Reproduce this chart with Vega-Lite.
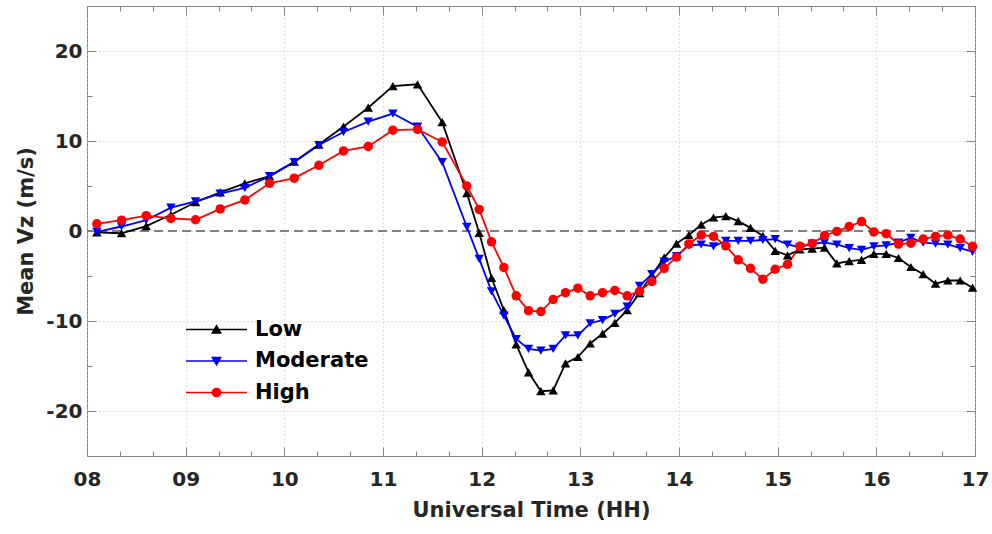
{
  "$schema": "https://vega.github.io/schema/vega-lite/v6.json",
  "width": 888,
  "height": 450,
  "autosize": {"type": "none"},
  "padding": {"left": 87, "top": 6, "right": 17, "bottom": 78},
  "background": "white",
  "config": {"view": {"stroke": "#858585", "strokeWidth": 1}, "font": "DejaVu Sans"},
  "datasets": {
    "series": [
      {"t": 8.1, "v": -0.15, "g": "Low"}, {"t": 8.35, "v": -0.25, "g": "Low"}, {"t": 8.6, "v": 0.55, "g": "Low"}, {"t": 8.85, "v": 1.8, "g": "Low"}, {"t": 9.1, "v": 3.2, "g": "Low"}, {"t": 9.35, "v": 4.3, "g": "Low"}, {"t": 9.6, "v": 5.3, "g": "Low"}, {"t": 9.85, "v": 6.1, "g": "Low"}, {"t": 10.1, "v": 7.7, "g": "Low"}, {"t": 10.35, "v": 9.6, "g": "Low"}, {"t": 10.6, "v": 11.6, "g": "Low"}, {"t": 10.85, "v": 13.7, "g": "Low"}, {"t": 11.1, "v": 16.1, "g": "Low"}, {"t": 11.35, "v": 16.3, "g": "Low"}, {"t": 11.6, "v": 12.1, "g": "Low"},
      {"t": 11.85, "v": 4.2, "g": "Low"}, {"t": 11.975, "v": -0.2, "g": "Low"}, {"t": 12.1, "v": -5.2, "g": "Low"}, {"t": 12.225, "v": -8.8, "g": "Low"}, {"t": 12.35, "v": -12.6, "g": "Low"}, {"t": 12.475, "v": -15.7, "g": "Low"}, {"t": 12.6, "v": -17.8, "g": "Low"}, {"t": 12.725, "v": -17.7, "g": "Low"}, {"t": 12.85, "v": -14.7, "g": "Low"}, {"t": 12.975, "v": -14.0, "g": "Low"}, {"t": 13.1, "v": -12.5, "g": "Low"}, {"t": 13.225, "v": -11.4, "g": "Low"}, {"t": 13.35, "v": -10.2, "g": "Low"}, {"t": 13.475, "v": -8.8, "g": "Low"}, {"t": 13.6, "v": -6.9, "g": "Low"}, {"t": 13.725, "v": -4.9, "g": "Low"}, {"t": 13.85, "v": -2.95, "g": "Low"}, {"t": 13.975, "v": -1.4, "g": "Low"}, {"t": 14.1, "v": -0.45, "g": "Low"}, {"t": 14.225, "v": 0.7, "g": "Low"}, {"t": 14.35, "v": 1.5, "g": "Low"}, {"t": 14.475, "v": 1.65, "g": "Low"}, {"t": 14.6, "v": 1.1, "g": "Low"}, {"t": 14.725, "v": 0.35, "g": "Low"}, {"t": 14.85, "v": -0.55, "g": "Low"}, {"t": 14.975, "v": -2.2, "g": "Low"}, {"t": 15.1, "v": -2.7, "g": "Low"}, {"t": 15.225, "v": -2.05, "g": "Low"}, {"t": 15.35, "v": -1.95, "g": "Low"}, {"t": 15.475, "v": -1.85, "g": "Low"}, {"t": 15.6, "v": -3.6, "g": "Low"}, {"t": 15.725, "v": -3.35, "g": "Low"}, {"t": 15.85, "v": -3.2, "g": "Low"}, {"t": 15.975, "v": -2.55, "g": "Low"}, {"t": 16.1, "v": -2.55, "g": "Low"}, {"t": 16.225, "v": -3.0, "g": "Low"}, {"t": 16.35, "v": -4.0, "g": "Low"}, {"t": 16.475, "v": -4.8, "g": "Low"}, {"t": 16.6, "v": -5.85, "g": "Low"}, {"t": 16.725, "v": -5.5, "g": "Low"}, {"t": 16.85, "v": -5.5, "g": "Low"}, {"t": 16.975, "v": -6.3, "g": "Low"},
      {"t": 8.1, "v": -0.1, "g": "Moderate"}, {"t": 8.35, "v": 0.5, "g": "Moderate"}, {"t": 8.6, "v": 1.2, "g": "Moderate"}, {"t": 8.85, "v": 2.6, "g": "Moderate"}, {"t": 9.1, "v": 3.3, "g": "Moderate"}, {"t": 9.35, "v": 4.15, "g": "Moderate"}, {"t": 9.6, "v": 4.8, "g": "Moderate"}, {"t": 9.85, "v": 6.1, "g": "Moderate"}, {"t": 10.1, "v": 7.65, "g": "Moderate"}, {"t": 10.35, "v": 9.55, "g": "Moderate"}, {"t": 10.6, "v": 11.0, "g": "Moderate"}, {"t": 10.85, "v": 12.15, "g": "Moderate"}, {"t": 11.1, "v": 13.05, "g": "Moderate"}, {"t": 11.35, "v": 11.6, "g": "Moderate"}, {"t": 11.6, "v": 7.65, "g": "Moderate"},
      {"t": 11.85, "v": 0.45, "g": "Moderate"}, {"t": 11.975, "v": -3.1, "g": "Moderate"}, {"t": 12.1, "v": -6.7, "g": "Moderate"}, {"t": 12.225, "v": -9.4, "g": "Moderate"}, {"t": 12.35, "v": -12.0, "g": "Moderate"}, {"t": 12.475, "v": -13.1, "g": "Moderate"}, {"t": 12.6, "v": -13.3, "g": "Moderate"}, {"t": 12.725, "v": -13.1, "g": "Moderate"}, {"t": 12.85, "v": -11.6, "g": "Moderate"}, {"t": 12.975, "v": -11.6, "g": "Moderate"}, {"t": 13.1, "v": -10.25, "g": "Moderate"}, {"t": 13.225, "v": -9.9, "g": "Moderate"}, {"t": 13.35, "v": -9.2, "g": "Moderate"}, {"t": 13.475, "v": -8.4, "g": "Moderate"}, {"t": 13.6, "v": -6.1, "g": "Moderate"}, {"t": 13.725, "v": -4.8, "g": "Moderate"}, {"t": 13.85, "v": -3.4, "g": "Moderate"}, {"t": 13.975, "v": -2.8, "g": "Moderate"}, {"t": 14.1, "v": -1.6, "g": "Moderate"}, {"t": 14.225, "v": -1.5, "g": "Moderate"}, {"t": 14.35, "v": -1.7, "g": "Moderate"}, {"t": 14.475, "v": -1.1, "g": "Moderate"}, {"t": 14.6, "v": -1.1, "g": "Moderate"}, {"t": 14.725, "v": -1.1, "g": "Moderate"}, {"t": 14.85, "v": -1.0, "g": "Moderate"}, {"t": 14.975, "v": -0.9, "g": "Moderate"}, {"t": 15.1, "v": -1.5, "g": "Moderate"}, {"t": 15.225, "v": -1.8, "g": "Moderate"}, {"t": 15.35, "v": -1.4, "g": "Moderate"}, {"t": 15.475, "v": -1.3, "g": "Moderate"}, {"t": 15.6, "v": -1.5, "g": "Moderate"}, {"t": 15.725, "v": -1.9, "g": "Moderate"}, {"t": 15.85, "v": -2.1, "g": "Moderate"}, {"t": 15.975, "v": -1.7, "g": "Moderate"}, {"t": 16.1, "v": -1.6, "g": "Moderate"}, {"t": 16.225, "v": -1.3, "g": "Moderate"}, {"t": 16.35, "v": -0.75, "g": "Moderate"}, {"t": 16.475, "v": -1.3, "g": "Moderate"}, {"t": 16.6, "v": -1.4, "g": "Moderate"}, {"t": 16.725, "v": -1.5, "g": "Moderate"}, {"t": 16.85, "v": -1.9, "g": "Moderate"}, {"t": 16.975, "v": -2.3, "g": "Moderate"},
      {"t": 8.1, "v": 0.8, "g": "High"}, {"t": 8.35, "v": 1.2, "g": "High"}, {"t": 8.6, "v": 1.7, "g": "High"}, {"t": 8.85, "v": 1.4, "g": "High"}, {"t": 9.1, "v": 1.25, "g": "High"}, {"t": 9.35, "v": 2.45, "g": "High"}, {"t": 9.6, "v": 3.45, "g": "High"}, {"t": 9.85, "v": 5.3, "g": "High"}, {"t": 10.1, "v": 5.87, "g": "High"}, {"t": 10.35, "v": 7.3, "g": "High"}, {"t": 10.6, "v": 8.9, "g": "High"}, {"t": 10.85, "v": 9.4, "g": "High"}, {"t": 11.1, "v": 11.2, "g": "High"}, {"t": 11.35, "v": 11.3, "g": "High"}, {"t": 11.6, "v": 9.9, "g": "High"},
      {"t": 11.85, "v": 5.0, "g": "High"}, {"t": 11.975, "v": 2.4, "g": "High"}, {"t": 12.1, "v": -1.2, "g": "High"}, {"t": 12.225, "v": -4.05, "g": "High"}, {"t": 12.35, "v": -7.2, "g": "High"}, {"t": 12.475, "v": -8.85, "g": "High"}, {"t": 12.6, "v": -8.95, "g": "High"}, {"t": 12.725, "v": -7.6, "g": "High"}, {"t": 12.85, "v": -6.85, "g": "High"}, {"t": 12.975, "v": -6.35, "g": "High"}, {"t": 13.1, "v": -7.2, "g": "High"}, {"t": 13.225, "v": -6.85, "g": "High"}, {"t": 13.35, "v": -6.6, "g": "High"}, {"t": 13.475, "v": -7.2, "g": "High"}, {"t": 13.6, "v": -6.7, "g": "High"}, {"t": 13.725, "v": -5.6, "g": "High"}, {"t": 13.85, "v": -4.15, "g": "High"}, {"t": 13.975, "v": -2.9, "g": "High"}, {"t": 14.1, "v": -1.45, "g": "High"}, {"t": 14.225, "v": -0.45, "g": "High"}, {"t": 14.35, "v": -0.6, "g": "High"}, {"t": 14.475, "v": -1.65, "g": "High"}, {"t": 14.6, "v": -3.2, "g": "High"}, {"t": 14.725, "v": -4.15, "g": "High"}, {"t": 14.85, "v": -5.35, "g": "High"}, {"t": 14.975, "v": -4.25, "g": "High"}, {"t": 15.1, "v": -3.7, "g": "High"}, {"t": 15.225, "v": -1.7, "g": "High"}, {"t": 15.35, "v": -1.4, "g": "High"}, {"t": 15.475, "v": -0.5, "g": "High"}, {"t": 15.6, "v": -0.05, "g": "High"}, {"t": 15.725, "v": 0.5, "g": "High"}, {"t": 15.85, "v": 1.05, "g": "High"}, {"t": 15.975, "v": -0.1, "g": "High"}, {"t": 16.1, "v": -0.3, "g": "High"}, {"t": 16.225, "v": -1.45, "g": "High"}, {"t": 16.35, "v": -1.35, "g": "High"}, {"t": 16.475, "v": -0.9, "g": "High"}, {"t": 16.6, "v": -0.6, "g": "High"}, {"t": 16.725, "v": -0.45, "g": "High"}, {"t": 16.85, "v": -0.9, "g": "High"}, {"t": 16.975, "v": -1.7, "g": "High"}
    ],
    "zero": [{"v": 0}]
  },
  "resolve": {"axis": {"x": "independent", "y": "independent"}},
  "layer": [
    {
      "data": {"name": "zero"},
      "mark": {"type": "rule", "color": "#808080", "strokeWidth": 2, "strokeDash": [9, 5]},
      "encoding": {
        "y": {"field": "v", "type": "quantitative", "scale": {"domain": [-25, 25], "nice": false, "zero": false}, "axis": null}
      }
    },
    {
      "data": {"name": "series"},
      "mark": {"type": "line", "strokeWidth": 1.8},
      "encoding": {
        "x": {"field": "t", "type": "quantitative", "scale": {"domain": [8, 17], "nice": false, "zero": false},
          "axis": {"orient": "bottom", "values": [8, 9, 10, 11, 12, 13, 14, 15, 16, 17],
            "labelExpr": "datum.value < 10 ? '0' + datum.value : '' + datum.value",
            "title": "Universal Time (HH)", "grid": true, "gridDash": [1, 3], "gridColor": "#c4c4c4", "gridWidth": 1,
            "domain": false, "ticks": true, "tickSize": -9, "tickColor": "#858585", "labelPadding": 22, "labelFlush": false, "labelOverlap": false,
            "labelFont": "DejaVu Sans", "labelFontWeight": "bold", "labelFontSize": 20, "labelColor": "#262626",
            "titleFont": "DejaVu Sans", "titleFontWeight": "bold", "titleFontSize": 21, "titleColor": "#262626", "titlePadding": 10}},
        "y": {"field": "v", "type": "quantitative", "scale": {"domain": [-25, 25], "nice": false, "zero": false},
          "axis": {"orient": "left", "values": [-20, -10, 0, 10, 20],
            "labelExpr": "'' + datum.value",
            "title": "Mean Vz (m/s)", "grid": true, "gridDash": [1, 3], "gridColor": "#c4c4c4", "gridWidth": 1,
            "domain": false, "ticks": true, "tickSize": -9, "tickColor": "#858585", "labelPadding": 14, "labelFlush": false, "labelOverlap": false,
            "labelFont": "DejaVu Sans", "labelFontWeight": "bold", "labelFontSize": 20, "labelColor": "#262626",
            "titleFont": "DejaVu Sans", "titleFontWeight": "bold", "titleFontSize": 21, "titleColor": "#262626", "titlePadding": 9}},
        "color": {"field": "g", "type": "nominal",
          "scale": {"domain": ["Low", "Moderate", "High"], "range": ["#000000", "#0000ff", "#ff0000"]},
          "legend": {"orient": "none", "legendX": 118, "legendY": 312, "title": null, "padding": 0,
            "labelFont": "DejaVu Sans", "labelFontWeight": "bold", "labelFontSize": 21, "labelColor": "#000000",
            "symbolSize": 441, "symbolStrokeWidth": 1.5, "labelOffset": 27, "rowPadding": 9.5,
            "encode": {"symbols": {"update": {
              "shape": {"signal": "datum.value === 'Low' ? 'M-2.9,0L2.9,0M0,-0.36L0.4,0.33L-0.4,0.33Z' : datum.value === 'Moderate' ? 'M-2.9,0L2.9,0M0,0.36L0.4,-0.33L-0.4,-0.33Z' : 'M-2.9,0L2.9,0M-0.39,0A0.39,0.39,0,1,0,0.39,0A0.39,0.39,0,1,0,-0.39,0Z'"},
              "size": {"value": 441},
              "strokeWidth": {"value": 1.5},
              "fill": {"scale": "color", "field": "value"},
              "stroke": {"scale": "color", "field": "value"},
              "opacity": {"value": 1}, "fillOpacity": {"value": 1}, "strokeOpacity": {"value": 1}}}}}}
      }
    },
    {
      "data": {"name": "series"},
      "mark": {"type": "point", "filled": true, "size": 90, "opacity": 1},
      "encoding": {
        "x": {"field": "t", "type": "quantitative",
          "axis": {"orient": "top", "values": [8, 9, 10, 11, 12, 13, 14, 15, 16, 17], "labels": false, "title": null, "grid": false, "domain": false, "tickSize": -9, "tickColor": "#858585"}},
        "y": {"field": "v", "type": "quantitative",
          "axis": {"orient": "right", "values": [-20, -10, 0, 10, 20], "labels": false, "title": null, "grid": false, "domain": false, "tickSize": -9, "tickColor": "#858585"}},
        "color": {"field": "g", "type": "nominal", "legend": null},
        "shape": {"condition": [{"test": "datum.g === 'Low'", "value": "triangle-up"}, {"test": "datum.g === 'Moderate'", "value": "triangle-down"}], "value": "circle"}
      }
    },
    {
      "data": {"name": "series"},
      "mark": {"type": "point", "opacity": 0},
      "encoding": {
        "x": {"field": "t", "type": "quantitative",
          "axis": {"orient": "bottom", "values": [8.3333, 8.6667, 9.3333, 9.6667, 10.3333, 10.6667, 11.3333, 11.6667, 12.3333, 12.6667, 13.3333, 13.6667, 14.3333, 14.6667, 15.3333, 15.6667, 16.3333, 16.6667], "labels": false, "title": null, "grid": false, "domain": false, "tickSize": -5, "tickColor": "#858585"}},
        "y": {"field": "v", "type": "quantitative",
          "axis": {"orient": "left", "values": [-15, -5, 5, 15], "labels": false, "title": null, "grid": false, "domain": false, "tickSize": -5, "tickColor": "#858585"}}
      }
    },
    {
      "data": {"name": "series"},
      "mark": {"type": "point", "opacity": 0},
      "encoding": {
        "x": {"field": "t", "type": "quantitative",
          "axis": {"orient": "top", "values": [8.3333, 8.6667, 9.3333, 9.6667, 10.3333, 10.6667, 11.3333, 11.6667, 12.3333, 12.6667, 13.3333, 13.6667, 14.3333, 14.6667, 15.3333, 15.6667, 16.3333, 16.6667], "labels": false, "title": null, "grid": false, "domain": false, "tickSize": -5, "tickColor": "#858585"}},
        "y": {"field": "v", "type": "quantitative",
          "axis": {"orient": "right", "values": [-15, -5, 5, 15], "labels": false, "title": null, "grid": false, "domain": false, "tickSize": -5, "tickColor": "#858585"}}
      }
    }
  ]
}
